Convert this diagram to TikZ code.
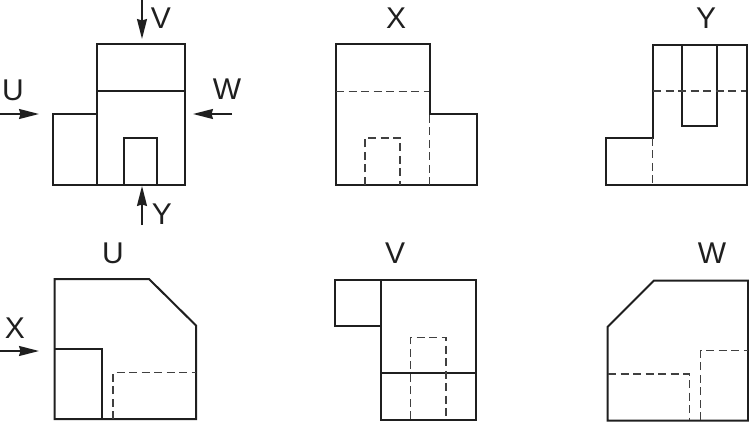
\documentclass[tikz,border=0pt]{standalone}
\usepackage{fontspec}
\setmainfont{Liberation Sans}
\usetikzlibrary{arrows.meta}
\definecolor{mainBlack}{gray}{0.12}
\definecolor{subGray}{gray}{0.25}
\tikzset{
    outline/.style={line width=2pt, mainBlack, line join=miter},
    hidden/.style={line width=1.2pt, subGray, dash pattern=on 8pt off 4.5pt},
    viewarrow/.style={line width=1.7pt, mainBlack, -{Stealth[length=20pt, width=10pt, inset=1.5pt]}},
    viewlabel/.style={font=\fontsize{30}{30}\selectfont, text=mainBlack, inner sep=0pt}
}
\begin{document}
\begin{tikzpicture}[x=1pt, y=-1pt]
    \useasboundingbox (0,0) rectangle (749,422);

    % reference view with its viewing directions
    \draw[outline] (97,44.5) rectangle (184.5,185);
    \draw[outline] (97,114.5) -- (53,114.5) -- (53,185) -- (97,185);
    \draw[outline] (97,91) -- (184.5,91);
    \draw[outline] (124,185) -- (124,138) -- (157,138) -- (157,185);

    \coordinate (vStart) at (142,0);
    \coordinate (vEnd) at (142,39);
    \coordinate (yStart) at (142,225);
    \coordinate (yEnd) at (142,186);
    \coordinate (uStart) at (0,114);
    \coordinate (uEnd) at (39,114);
    \coordinate (wStart) at (232,114);
    \coordinate (wEnd) at (193,114);
    \draw[viewarrow] (vStart) -- (vEnd);
    \draw[viewarrow] (yStart) -- (yEnd);
    \draw[viewarrow] (uStart) -- (uEnd);
    \draw[viewarrow] (wStart) -- (wEnd);
    \node[viewlabel] (labelV) at (161,18) {V};
    \node[viewlabel] (labelY) at (162,214) {Y};
    \node[viewlabel] (labelU) at (13,90) {U};
    \node[viewlabel] (labelW) at (227,89) {W};

    % view X
    \node[viewlabel] (titleX) at (396,18) {X};
    \draw[outline] (335.5,44.5) -- (429.5,44.5) -- (429.5,114.5) -- (476.5,114.5) -- (476.5,185) -- (335.5,185) -- cycle;
    \draw[hidden] (336,91.5) -- (429,91.5);
    \draw[hidden] (429.5,115) -- (429.5,185);
    \draw[hidden] (365,185) -- (365,138) -- (400,138) -- (400,185);

    % view Y
    \node[viewlabel] (titleY) at (706,18) {Y};
    \draw[outline] (652.5,45) -- (746.5,45) -- (746.5,185.5) -- (605.5,185.5) -- (605.5,138) -- (652.5,138) -- cycle;
    \draw[outline] (682,45) -- (682,126.5) -- (717,126.5) -- (717,45);
    \draw[hidden] (653,91) -- (746,91);
    \draw[hidden] (652.5,138) -- (652.5,185);

    % view U
    \node[viewlabel] (titleU) at (113,253) {U};
    \draw[outline] (54.5,279) -- (149,279) -- (196,325.5) -- (196,419) -- (54.5,419) -- cycle;
    \draw[outline] (54.5,348.5) -- (101.5,348.5) -- (101.5,419);
    \draw[hidden] (113,419) -- (113,372.5) -- (196,372.5);
    \coordinate (xStart) at (0,351);
    \coordinate (xEnd) at (39,351);
    \draw[viewarrow] (xStart) -- (xEnd);
    \node[viewlabel] (labelX) at (15,328) {X};

    % view V
    \node[viewlabel] (titleV) at (395,253) {V};
    \draw[outline] (381,279.5) rectangle (475.5,419.5);
    \draw[outline] (381,279.5) -- (334.5,279.5) -- (334.5,326) -- (381,326);
    \draw[outline] (381,373) -- (475.5,373);
    \draw[hidden] (410.5,419) -- (410.5,337.5) -- (446,337.5) -- (446,419);

    % view W
    \node[viewlabel] (titleW) at (712,253) {W};
    \draw[outline] (654,280.5) -- (748,280.5) -- (748,420.5) -- (607.5,420.5) -- (607.5,327) -- cycle;
    \draw[hidden] (608,374) -- (689.5,374) -- (689.5,420);
    \draw[hidden] (700.5,420) -- (700.5,350.5) -- (748,350.5);
\end{tikzpicture}
\end{document}
